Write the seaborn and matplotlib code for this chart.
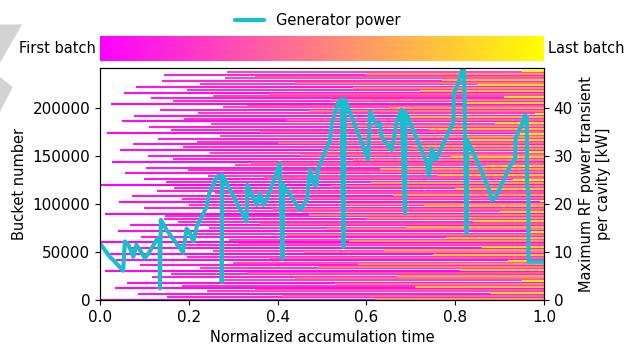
import numpy as np
import pandas as pd
import matplotlib
matplotlib.use("Agg")
import matplotlib.pyplot as plt
import seaborn as sns
from matplotlib.cm import ScalarMappable
from matplotlib.colors import Normalize
from matplotlib.patches import Polygon


# Batches: bucket position (in thousands) and normalized injection time.
# First pass fills a coarse grid, the later passes fill in between.
coarse_bucket_k = [0, 6, 12, 18, 24, 30, 36, 42, 48, 54,
                   60, 66, 72, 78, 84, 90, 96, 102, 108, 114,
                   120, 126, 132, 138, 144, 150, 156, 162, 168, 174,
                   180, 186, 192, 198, 204, 210, 216, 222, 228, 234]
coarse_start = [0.000, 0.085, 0.034, 0.060, 0.116, 0.012, 0.090, 0.037, 0.022, 0.062,
                0.000, 0.093, 0.040, 0.068, 0.143, 0.011, 0.098, 0.043, 0.073, 0.128,
                0.000, 0.100, 0.056, 0.104, 0.028, 0.107, 0.046, 0.075, 0.131, 0.015,
                0.110, 0.050, 0.077, 0.135, 0.025, 0.114, 0.055, 0.081, 0.139, 0.143]

mid_bucket_k = [3, 9, 15, 21, 27, 33, 39, 45, 51, 57,
                63, 69, 75, 81, 87, 93, 99, 105, 111, 117,
                123, 129, 135, 141, 147, 153, 159, 165, 171, 177,
                183, 189, 195, 201, 207, 213, 219, 225, 231, 237]
mid_start = [0.150, 0.240, 0.185, 0.270, 0.160, 0.225, 0.300, 0.195, 0.255, 0.170,
             0.290, 0.210, 0.245, 0.175, 0.146, 0.280, 0.200, 0.184, 0.260, 0.166,
             0.149, 0.244, 0.199, 0.305, 0.165, 0.248, 0.188, 0.218, 0.270, 0.160,
             0.250, 0.190, 0.221, 0.278, 0.165, 0.255, 0.195, 0.225, 0.282, 0.285]

fine_bucket_k = [1.5, 4.5, 7.5, 10.5, 13.5, 16.5, 19.5, 22.5, 25.5, 28.5,
                 31.5, 34.5, 37.5, 40.5, 43.5, 46.5, 49.5, 52.5, 55.5, 58.5,
                 61.5, 64.5, 67.5, 70.5, 73.5, 76.5, 79.5, 82.5, 85.5, 88.5,
                 91.5, 94.5, 97.5, 100.5, 103.5, 106.5, 109.5, 112.5, 115.5, 118.5,
                 121.5, 124.5, 127.5, 130.5, 133.5, 136.5, 139.5, 142.5, 145.5, 148.5,
                 151.5, 154.5, 157.5, 160.5, 163.5, 166.5, 169.5, 172.5, 175.5, 178.5,
                 181.5, 184.5, 187.5, 190.5, 193.5, 196.5, 199.5, 202.5, 205.5, 208.5,
                 211.5, 214.5, 217.5, 220.5, 223.5, 226.5, 229.5, 232.5, 235.5, 238.5]
fine_start = [0.62, 0.41, 0.88, 0.35, 0.71, 0.53, 0.95, 0.44, 0.67, 0.33,
              0.81, 0.49, 0.58, 0.92, 0.38, 0.75, 0.46, 0.64, 0.86, 0.31,
              0.56, 0.78, 0.42, 0.97, 0.51, 0.69, 0.36, 0.84, 0.60, 0.47,
              0.90, 0.39, 0.73, 0.55, 0.99, 0.43, 0.66, 0.32, 0.80, 0.52,
              0.61, 0.93, 0.37, 0.76, 0.48, 0.63, 0.87, 0.34, 0.57, 0.79,
              0.45, 0.96, 0.50, 0.70, 0.40, 0.83, 0.59, 0.94, 0.36, 0.74,
              0.54, 0.89, 0.42, 0.68, 0.98, 0.47, 0.65, 0.33, 0.82, 0.52,
              0.91, 0.38, 0.72, 0.57, 0.85, 0.44, 0.77, 0.35, 0.60, 0.95]

# Generator power (max RF power transient per cavity, kW)
power_time = [0.000, 0.022, 0.030, 0.052, 0.056, 0.064, 0.075, 0.082, 0.090, 0.101,
              0.109, 0.128, 0.134, 0.135, 0.137, 0.150, 0.187, 0.195, 0.203, 0.210,
              0.218, 0.240, 0.246, 0.263, 0.274, 0.274, 0.276, 0.330, 0.332, 0.353,
              0.360, 0.368, 0.375, 0.405, 0.411, 0.413, 0.450, 0.466, 0.469, 0.473,
              0.482, 0.488, 0.490, 0.518, 0.522, 0.537, 0.544, 0.548, 0.552, 0.604,
              0.608, 0.623, 0.631, 0.634, 0.657, 0.668, 0.679, 0.687, 0.688, 0.735,
              0.741, 0.747, 0.755, 0.758, 0.796, 0.797, 0.807, 0.815, 0.820, 0.822,
              0.826, 0.827, 0.848, 0.863, 0.878, 0.882, 0.890, 0.923, 0.935, 0.936,
              0.950, 0.957, 0.961, 0.962, 0.965, 0.965, 1.000]
power_kw = [11.8, 9.0, 8.3, 6.1, 12.2, 11.5, 9.0, 11.5, 10.4, 8.7,
            9.7, 12.6, 12.8, 2.4, 16.7, 14.6, 9.9, 14.9, 13.9, 12.2,
            15.3, 19.4, 22.2, 25.7, 26.0, 3.8, 26.0, 16.3, 24.0, 19.8,
            22.2, 19.8, 20.8, 28.5, 8.7, 24.0, 18.8, 20.8, 23.6, 27.1,
            24.0, 24.0, 27.1, 33.3, 36.8, 41.3, 41.8, 11.1, 41.7, 29.2,
            39.2, 36.5, 36.8, 34.0, 31.2, 37.1, 39.6, 18.1, 39.2, 28.8,
            25.7, 31.6, 29.2, 29.5, 37.1, 43.0, 45.1, 47.9, 47.9, 34.0,
            13.9, 33.3, 29.2, 26.0, 22.6, 20.8, 21.2, 27.8, 29.5, 33.7,
            36.5, 38.5, 38.2, 23.6, 22.6, 8.0, 8.0]

bucket_max = 241700
kw_per_bucket = 10 / 50000


batches = pd.DataFrame({
    "bucket": np.array(coarse_bucket_k + mid_bucket_k + fine_bucket_k) * 1000,
    "start": coarse_start + mid_start + fine_start,
}).sort_values("start", kind="stable")

power = pd.DataFrame({"time": power_time, "power": power_kw})

sns.set_style("ticks", {"axes.edgecolor": "black", "text.color": "black",
                        "xtick.color": "black", "ytick.color": "black",
                        "axes.labelcolor": "black"})
plt.rcParams["xtick.labelsize"] = 11
plt.rcParams["ytick.labelsize"] = 11
plt.rcParams["axes.labelsize"] = 10.5

cmap = plt.cm.spring
norm = Normalize(0, 1)

fig = plt.figure(figsize=(6.35, 3.49), dpi=100)

# light grey shape in the top-left corner of the original screenshot
fig.add_artist(Polygon([[0, 0.93], [0.035, 0.93], [0.0, 0.82]], closed=True,
                       transform=fig.transFigure, color="#d3d3d3", lw=0, zorder=0))
fig.add_artist(Polygon([[0, 0.78], [0.02, 0.75], [0.0, 0.68]], closed=True,
                       transform=fig.transFigure, color="#d3d3d3", lw=0, zorder=0))

ax = fig.add_axes([0.1575, 0.1404, 0.6992, 0.6648])

ax.hlines(batches["bucket"], batches["start"], 1.0,
          colors=cmap(norm(batches["start"].values)), lw=1.5)
ax.set_xlim(0, 1)
ax.set_ylim(0, bucket_max)
ax.set_yticks([0, 50000, 100000, 150000, 200000])
ax.set_xlabel("Normalized accumulation time")
ax.set_ylabel("Bucket number")

ax2 = ax.twinx()
sns.lineplot(data=power, x="time", y="power", sort=False, estimator=None,
             color="#17becf", lw=3, ax=ax2, label="Generator power", legend=False)
ax2.set_ylim(0, bucket_max * kw_per_bucket)
ax2.set_yticks([0, 10, 20, 30, 40])
ax2.set_xlim(0, 1)
ax2.set_xlabel("")
ax2.set_ylabel("Maximum RF power transient\nper cavity [kW]")

handles, labels = ax2.get_legend_handles_labels()
fig.legend(handles, labels, loc="upper center", bbox_to_anchor=(0.5, 1.0),
           frameon=False, fontsize=10.5)

# colour bar for the batch order
cax = fig.add_axes([0.1575, 0.825, 0.6992, 0.0716])
cb = fig.colorbar(ScalarMappable(norm=norm, cmap=cmap), cax=cax,
                  orientation="horizontal")
cb.set_ticks([])
cb.outline.set_visible(False)
cax.text(-0.01, 0.5, "First batch", ha="right", va="center", fontsize=10.5,
         transform=cax.transAxes)
cax.text(1.01, 0.5, "Last batch", ha="left", va="center", fontsize=10.5,
         transform=cax.transAxes)

fig.savefig("out.png", dpi=100)
